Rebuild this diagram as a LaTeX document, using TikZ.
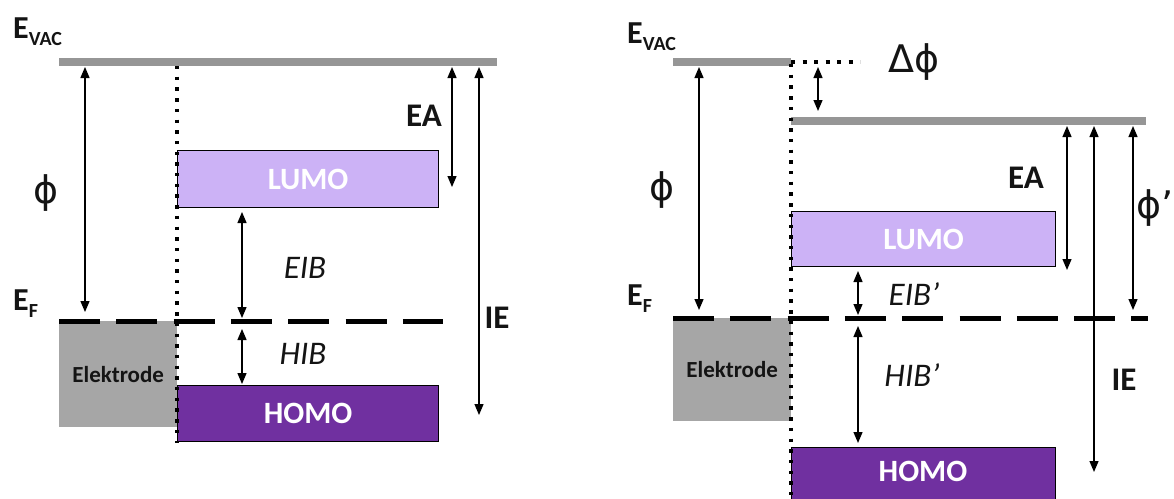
\documentclass[tikz,border=0pt]{standalone}
\usepackage{fontspec}
\setmainfont{Carlito}
\newfontfamily\dvs{DejaVu Sans}
\usetikzlibrary{arrows.meta}
\definecolor{lumoc}{RGB}{204,178,246}
\definecolor{homoc}{RGB}{112,48,160}
\definecolor{elekc}{RGB}{166,166,166}
\definecolor{vacc}{RGB}{150,150,150}
\definecolor{txtc}{RGB}{20,20,20}
\newcommand{\fs}[1]{\fontsize{#1}{#1}\selectfont}
\begin{document}
\begin{tikzpicture}[x=1pt,y=-1pt,
  vacline/.style={draw=vacc,line width=8pt},
  fermi/.style={line width=5pt,dash pattern=on 41pt off 16.3pt},
  dotline/.style={line width=3.4pt,dash pattern=on 3.4pt off 7.3pt},
  arr/.style={line width=1.3pt,{Triangle[length=11pt,width=9pt]}-{Triangle[length=11pt,width=9pt]}},
  level/.style={draw=black,line width=1.2pt,anchor=north west,inner sep=0pt,font=\fs{31}\bfseries,text=white},
  elek/.style={fill=elekc,anchor=north west,inner sep=0pt,font=\fs{23}\bfseries,text=txtc},
  big/.style={font=\fs{33}\bfseries,text=txtc,inner sep=0pt},
  ital/.style={font=\fs{33}\itshape,text=txtc,inner sep=0pt},
  greek/.style={font=\dvs\fs{38},text=txtc,inner sep=0pt},
  lvl/.style={font=\fs{32}\bfseries,text=txtc,inner sep=0pt,anchor=base west}
]
\useasboundingbox (0,0) rectangle (1174,498);

% ================= LEFT PANEL =================
\node[elek,minimum width=118pt,minimum height=106pt] (elL) at (59,321) {Elektrode};
\node[level,fill=lumoc,minimum width=261pt,minimum height=57pt] (lumoL) at (177,150) {LUMO};
\node[level,fill=homoc,minimum width=261pt,minimum height=56pt] (homoL) at (177,385) {HOMO};

\coordinate (vacLa) at (59,62);
\coordinate (vacLb) at (497,62);
\draw[vacline] (vacLa) -- (vacLb);
\coordinate (efLa) at (59,321);
\coordinate (efLb) at (443,321);
\draw[fermi] (efLa) -- (efLb);
\coordinate (dotLa) at (177,66);
\coordinate (dotLb) at (177,443);
\draw[dotline] (dotLa) -- (dotLb);

\node[lvl] (evacL) at (13,38) {E\raisebox{-7pt}{\fs{20}VAC}};
\node[lvl] (efL) at (13,310) {E\raisebox{-7pt}{\fs{20}F}};

\coordinate (phiLa) at (85,67);
\coordinate (phiLb) at (85,312);
\draw[arr] (phiLa) -- (phiLb);
\node[greek] (phiL) at (46,193) {ϕ};

\coordinate (eaLa) at (452,67);
\coordinate (eaLb) at (452,187);
\draw[arr] (eaLa) -- (eaLb);
\node[big] (eaL) at (424,116) {EA};

\coordinate (ieLa) at (479,67);
\coordinate (ieLb) at (479,415);
\draw[arr] (ieLa) -- (ieLb);
\node[big] (ieL) at (497,318) {IE};

\coordinate (eibLa) at (242,212);
\coordinate (eibLb) at (242,318);
\draw[arr] (eibLa) -- (eibLb);
\node[ital] (eibL) at (305,268) {EIB};

\coordinate (hibLa) at (242,329);
\coordinate (hibLb) at (242,384);
\draw[arr] (hibLa) -- (hibLb);
\node[ital] (hibL) at (303,354) {HIB};

% ================= RIGHT PANEL =================
\node[elek,minimum width=118pt,minimum height=103pt] (elR) at (673,318) {Elektrode};
\node[level,fill=lumoc,minimum width=264pt,minimum height=55pt] (lumoR) at (791,211) {LUMO};
\node[level,fill=homoc,minimum width=264pt,minimum height=60pt] (homoR) at (791,447) {};
\node[font=\fs{31}\bfseries,text=white,inner sep=0pt] (homoRt) at (923,471) {HOMO};

\coordinate (vacRa) at (673,62);
\coordinate (vacRb) at (791,62);
\draw[vacline] (vacRa) -- (vacRb);
\coordinate (vacRc) at (791,121);
\coordinate (vacRd) at (1146,121);
\draw[vacline] (vacRc) -- (vacRd);
\coordinate (dotRh) at (860,62);
\draw[dotline,line width=4pt,dash pattern=on 4pt off 7.5pt] (vacRb) -- (dotRh);
\coordinate (efRa) at (673,318);
\coordinate (efRb) at (1148,318);
\draw[fermi] (efRa) -- (efRb);
\coordinate (dotRa) at (791,64);
\coordinate (dotRb) at (791,500);
\draw[dotline] (dotRa) -- (dotRb);

\node[lvl] (evacR) at (627,43) {E\raisebox{-7pt}{\fs{20}VAC}};
\node[lvl] (efR) at (627,305) {E\raisebox{-7pt}{\fs{20}F}};

\coordinate (dphiA) at (818,67);
\coordinate (dphiB) at (818,111);
\draw[arr] (dphiA) -- (dphiB);
\node[greek] (dphi) at (914,62) {Δϕ};

\coordinate (phiRa) at (699,67);
\coordinate (phiRb) at (699,310);
\draw[arr] (phiRa) -- (phiRb);
\node[greek] (phiR) at (662,190) {ϕ};

\coordinate (eaRa) at (1067,126);
\coordinate (eaRb) at (1067,270);
\draw[arr] (eaRa) -- (eaRb);
\node[big] (eaR) at (1026,178) {EA};

\coordinate (ieRa) at (1094,126);
\coordinate (ieRb) at (1094,472);
\draw[arr] (ieRa) -- (ieRb);
\node[big] (ieR) at (1124,380) {IE};

\coordinate (phipa) at (1133,126);
\coordinate (phipb) at (1133,310);
\draw[arr] (phipa) -- (phipb);
\node[greek,anchor=east] (phip) at (1174,208) {ϕ’};

\coordinate (eibRa) at (858,271);
\coordinate (eibRb) at (858,315);
\draw[arr] (eibRa) -- (eibRb);
\node[ital] (eibR) at (914,294) {EIB’};

\coordinate (hibRa) at (858,326);
\coordinate (hibRb) at (858,443);
\draw[arr] (hibRa) -- (hibRb);
\node[ital] (hibR) at (912,375) {HIB’};
\end{tikzpicture}
\end{document}
